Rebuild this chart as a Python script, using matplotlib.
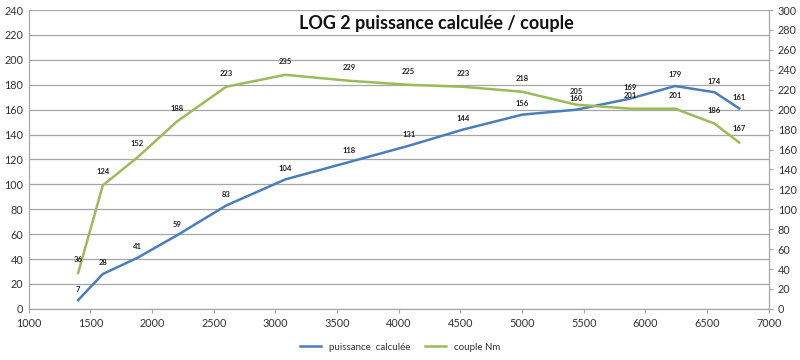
import matplotlib.pyplot as plt
import numpy as np

# regime moteur (tr/min)
rpm = [1400, 1600, 1880, 2200, 2600, 3080, 3600, 4080, 4520, 5000, 5440, 5880, 6240, 6560, 6760]
# puissance calculee (ch) - axe gauche
puissance = [7, 28, 41, 59, 83, 104, 118, 131, 144, 156, 160, 169, 179, 174, 161]
# couple (Nm) - axe droit
couple = [36, 124, 152, 188, 223, 235, 229, 225, 223, 218, 205, 201, 201, 186, 167]

bleu = '#4a7ebb'
vert = '#9bbb59'
gris = '#a6a6a6'

plt.rcParams['font.family'] = ['Lato', 'DejaVu Sans']

fig = plt.figure(figsize=(8, 3.6), dpi=100)
ax = fig.add_axes([0.036, 0.142, 0.925, 0.83])
ax2 = ax.twinx()

l1, = ax.plot(rpm, puissance, color=bleu, lw=1.8, label='puissance  calculée')
l2, = ax2.plot(rpm, couple, color=vert, lw=1.8, label='couple Nm')

for x, y in zip(rpm, puissance):
    ax.annotate(str(y), (x, y), xytext=(0, 8), textcoords='offset points',
                ha='center', va='center', fontsize=5.5, fontweight='bold', color='#222222')
for x, y in zip(rpm, couple):
    ax2.annotate(str(y), (x, y), xytext=(0, 9.8), textcoords='offset points',
                 ha='center', va='center', fontsize=5.5, fontweight='bold', color='#222222')

ax.set_xlim(1000, 7000)
ax.set_ylim(0, 240)
ax2.set_ylim(0, 300)
ax.set_xticks(np.arange(1000, 7001, 500))
ax.set_yticks(np.arange(0, 241, 20))
ax2.set_yticks(np.arange(0, 301, 20))

ax.grid(axis='y', color=gris, lw=0.9)
ax.set_axisbelow(True)

for a in (ax, ax2):
    for s in a.spines.values():
        s.set_color(gris)
    a.spines['top'].set_visible(False)
ax.tick_params(axis='both', labelsize=7.8, colors=gris, labelcolor='#333333', length=3)
ax.tick_params(axis='y', length=0, pad=4)
ax2.tick_params(axis='y', labelsize=7.8, colors=gris, labelcolor='#333333', length=3)

fig.text(0.546, 0.935, 'LOG 2 puissance calculée / couple', ha='center', va='center',
         fontsize=13, fontweight='bold', color='#111111')

fig.legend(handles=[l1, l2], loc='center', bbox_to_anchor=(0.5, 0.035), ncol=2,
           frameon=False, fontsize=7, handlelength=2.2, columnspacing=1.5, labelcolor='#333333')

fig.savefig('out.png', dpi=100)
